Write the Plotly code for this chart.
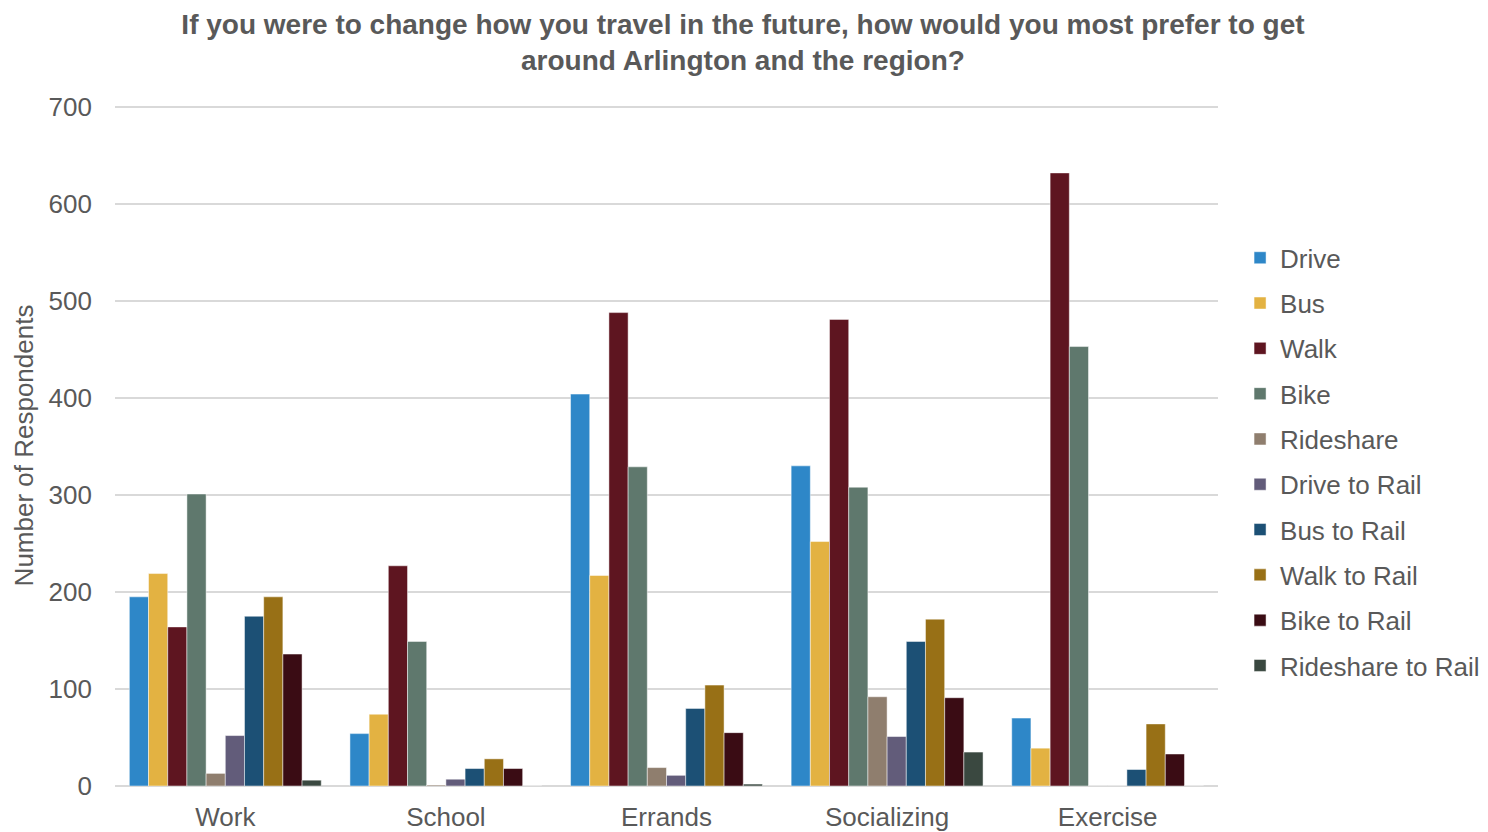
import plotly.graph_objects as go

categories = ["Work", "School", "Errands", "Socializing", "Exercise"]
series_names = ["Drive", "Bus", "Walk", "Bike", "Rideshare", "Drive to Rail",
                "Bus to Rail", "Walk to Rail", "Bike to Rail", "Rideshare to Rail"]
drive = [195, 54, 404, 330, 70]
bus = [219, 74, 217, 252, 39]
walk = [164, 227, 488, 481, 632]
bike = [301, 149, 329, 308, 453]
rideshare = [13, 1, 19, 92, 0]
drive_to_rail = [52, 7, 11, 51, 0]
bus_to_rail = [175, 18, 80, 149, 17]
walk_to_rail = [195, 28, 104, 172, 64]
bike_to_rail = [136, 18, 55, 91, 33]
rideshare_to_rail = [6, 0, 2, 35, 0]
values = [drive, bus, walk, bike, rideshare, drive_to_rail,
          bus_to_rail, walk_to_rail, bike_to_rail, rideshare_to_rail]
colors = ["#2E87C8", "#E3B242", "#5E1520", "#5F786D", "#8F7E6E", "#625C7A",
          "#1C5075", "#987016", "#3A0C14", "#3A4840"]

fig = go.Figure()
for i, (name, vals, col) in enumerate(zip(series_names, values, colors)):
    fig.add_trace(go.Bar(
        x=categories, y=vals, name=name, legendgroup=name,
        marker=dict(color=col, line=dict(color="rgba(255,255,255,0.6)", width=0.8)),
    ))

font_family = "Liberation Sans, Arial, sans-serif"
fs = 26
fig.update_layout(
    width=1480, height=824,
    barmode="group", bargap=0.13, bargroupgap=0,
    plot_bgcolor="white", paper_bgcolor="white",
    margin=dict(l=107, r=270, t=97, b=46, autoexpand=False),
    font=dict(family=font_family, color="#595959", size=fs),
    title=dict(
        text="<b>If you were to change how you travel in the future, how would you most prefer to get<br>around Arlington and the region?</b>",
        x=0.4966, xanchor="center", yref="container", y=0.9685, yanchor="middle",
        font=dict(size=28, color="#595959", family=font_family),
    ),
    yaxis=dict(
        range=[0, 702], tickvals=[0, 100, 200, 300, 400, 500, 600, 700],
        showgrid=True, gridcolor="#D9D9D9", gridwidth=1.5,
        zeroline=True, zerolinecolor="#D9D9D9", zerolinewidth=1.5,
        showline=False, ticks="", automargin=False,
        ticklabelstandoff=22,
        tickfont=dict(size=fs, color="#595959"),
        title=dict(text="Number of Respondents", font=dict(size=fs, color="#595959"), standoff=7),
    ),
    xaxis=dict(
        showline=False, ticks="", automargin=False,
        ticklabelstandoff=13,
        tickfont=dict(size=fs, color="#595959"),
    ),
    legend=dict(
        x=1.02, xanchor="left", y=0.476, yanchor="middle",
        font=dict(size=fs, color="#595959"),
        tracegroupgap=8.5, itemwidth=30,
        bgcolor="rgba(0,0,0,0)",
    ),
)

fig.write_html("out.html")
